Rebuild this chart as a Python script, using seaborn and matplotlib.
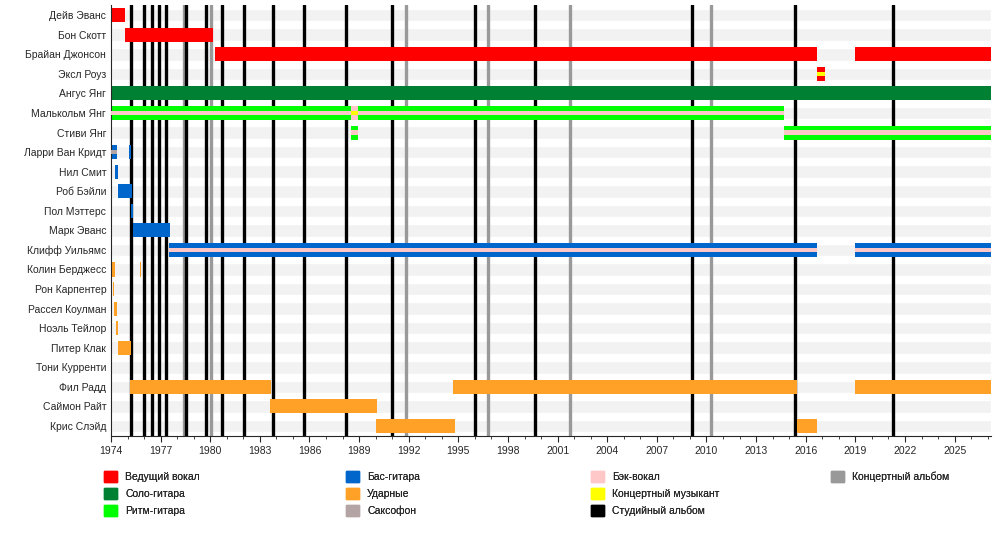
import matplotlib
matplotlib.use("Agg")
import matplotlib.pyplot as plt
import matplotlib.ticker as mticker
from matplotlib.patches import Patch
import seaborn as sns

sns.set_style("white")
plt.rcParams['font.family'] = ['Liberation Sans', 'DejaVu Sans']

members = ["Дейв Эванс", "Бон Скотт", "Брайан Джонсон", "Эксл Роуз", "Ангус Янг",
           "Малькольм Янг", "Стиви Янг", "Ларри Ван Кридт", "Нил Смит", "Роб Бэйли",
           "Пол Мэттерс", "Марк Эванс", "Клифф Уильямс", "Колин Берджесс", "Рон Карпентер",
           "Рассел Коулман", "Ноэль Тейлор", "Питер Клак", "Тони Курренти", "Фил Радд",
           "Саймон Райт", "Крис Слэйд"]

END = 2027.2
# each segment: member, start, end, main role, stripe role (None = solid)
seg_member = ["Дейв Эванс", "Бон Скотт", "Брайан Джонсон", "Брайан Джонсон", "Эксл Роуз",
              "Ангус Янг", "Малькольм Янг", "Малькольм Янг", "Малькольм Янг", "Стиви Янг",
              "Стиви Янг", "Ларри Ван Кридт", "Ларри Ван Кридт", "Нил Смит", "Роб Бэйли",
              "Пол Мэттерс", "Марк Эванс", "Клифф Уильямс", "Клифф Уильямс", "Колин Берджесс",
              "Колин Берджесс", "Рон Карпентер", "Рассел Коулман", "Ноэль Тейлор", "Питер Клак",
              "Тони Курренти", "Фил Радд", "Фил Радд", "Фил Радд", "Саймон Райт",
              "Крис Слэйд", "Крис Слэйд"]
seg_start = [1974.0, 1974.85, 1980.3, 2018.95, 2016.7,
             1974.0, 1974.0, 1988.95, 1988.5, 1988.5,
             2014.7, 1974.0, 1975.1, 1974.25, 1974.4,
             1975.2, 1975.3, 1977.5, 2018.95, 1974.0,
             1975.75, 1974.12, 1974.2, 1974.3, 1974.4,
             1974.9, 1975.15, 1994.7, 2018.95, 1983.6,
             1990.0, 2015.45]
seg_end = [1974.85, 1980.15, 2016.7, END, 2017.15,
           END, 1988.5, 2014.7, 1988.95, 1988.95,
           END, 1974.35, 1975.2, 1974.42, 1975.25,
           1975.3, 1977.55, 2016.7, END, 1974.25,
           1975.8, 1974.2, 1974.35, 1974.45, 1975.2,
           1974.93, 1983.65, 2015.45, END, 1990.1,
           1994.8, 2016.7]
seg_role = ["vox", "vox", "vox", "vox", "vox",
            "lead", "rhythm", "rhythm", "back", "rhythm",
            "rhythm", "bass", "bass", "bass", "bass",
            "bass", "bass", "bass", "bass", "drums",
            "drums", "drums", "drums", "drums", "drums",
            "drums", "drums", "drums", "drums", "drums",
            "drums", "drums"]
seg_stripe = [None, None, None, None, "tour",
              None, "back", "back", "tour", "back",
              "back", "sax", None, None, None,
              None, None, "back", "back", None,
              None, None, None, None, None,
              None, None, None, None, None,
              None, None]

studio_albums = [1975.21, 1976.01, 1976.46, 1976.88, 1977.34, 1978.55, 1979.74, 1980.71,
                 1982.04, 1983.79, 1985.66, 1988.2, 1990.96, 1995.99, 1999.62, 2009.1,
                 2015.33, 2021.25]
live_albums = [1978.41, 1980.04, 1991.82, 1996.78, 2001.73, 2010.25]

colors = {"vox": "#FF0000", "lead": "#008033", "rhythm": "#00FF00", "bass": "#0066CC",
          "drums": "#FFA126", "sax": "#B4A4A4", "back": "#FFC8C8", "tour": "#FFFF00",
          "studio": "#000000", "live": "#999999"}
labels = {"vox": "Ведущий вокал", "lead": "Соло-гитара", "rhythm": "Ритм-гитара",
          "bass": "Бас-гитара", "drums": "Ударные", "sax": "Саксофон",
          "back": "Бэк-вокал", "tour": "Концертный музыкант",
          "studio": "Студийный альбом", "live": "Концертный альбом"}

fig = plt.figure(figsize=(10, 5.4), dpi=100)
ax = fig.add_axes([0.111, 0.193, 0.88, 0.797])

h = 0.72
ypos = {m: i for i, m in enumerate(members)}
ax.barh(range(len(members)), [END - 1974] * len(members), left=1974, height=0.64,
        color="#F2F2F2", zorder=0)

for x in live_albums:
    ax.axvline(x, color=colors["live"], lw=2.4, zorder=1)
for x in studio_albums:
    ax.axvline(x, color=colors["studio"], lw=2.4, zorder=1)

for m, s, e, r, st in zip(seg_member, seg_start, seg_end, seg_role, seg_stripe):
    y = ypos[m]
    ax.barh(y, e - s, left=s, height=h, color=colors[r], zorder=2, linewidth=0)
    if st is not None:
        ax.barh(y, e - s, left=s, height=h / 3, color=colors[st], zorder=3, linewidth=0)

ax.set_xlim(1974, END)
ax.set_ylim(len(members) - 0.5, -0.5)
ax.set_yticks(range(len(members)))
ax.set_yticklabels(members, fontsize=7.5)
ax.xaxis.set_major_locator(mticker.FixedLocator(range(1974, 2027, 3)))
ax.xaxis.set_minor_locator(mticker.FixedLocator(range(1974, 2028)))
ax.tick_params(axis="x", which="major", labelsize=7.5, length=4, bottom=True)
ax.tick_params(axis="x", which="minor", length=2, bottom=True)
ax.tick_params(axis="y", length=0)
for sp in ["top", "right"]:
    ax.spines[sp].set_visible(False)
ax.spines["left"].set_linewidth(0.8)
ax.spines["bottom"].set_linewidth(0.8)

groups = [["vox", "lead", "rhythm"], ["bass", "drums", "sax"],
          ["back", "tour", "studio"], ["live"]]
col_x = [0.1, 0.342, 0.587, 0.827]
for g, cx in zip(groups, col_x):
    handles = [Patch(color=colors[k], label=labels[k]) for k in g]
    leg = fig.legend(handles=handles, loc="upper left", bbox_to_anchor=(cx, 0.135),
                     frameon=False, fontsize=7.5, handlelength=1.2, handleheight=1.2,
                     labelspacing=0.6, borderaxespad=0)
    fig.add_artist(leg)

fig.savefig("out.png", dpi=100)
